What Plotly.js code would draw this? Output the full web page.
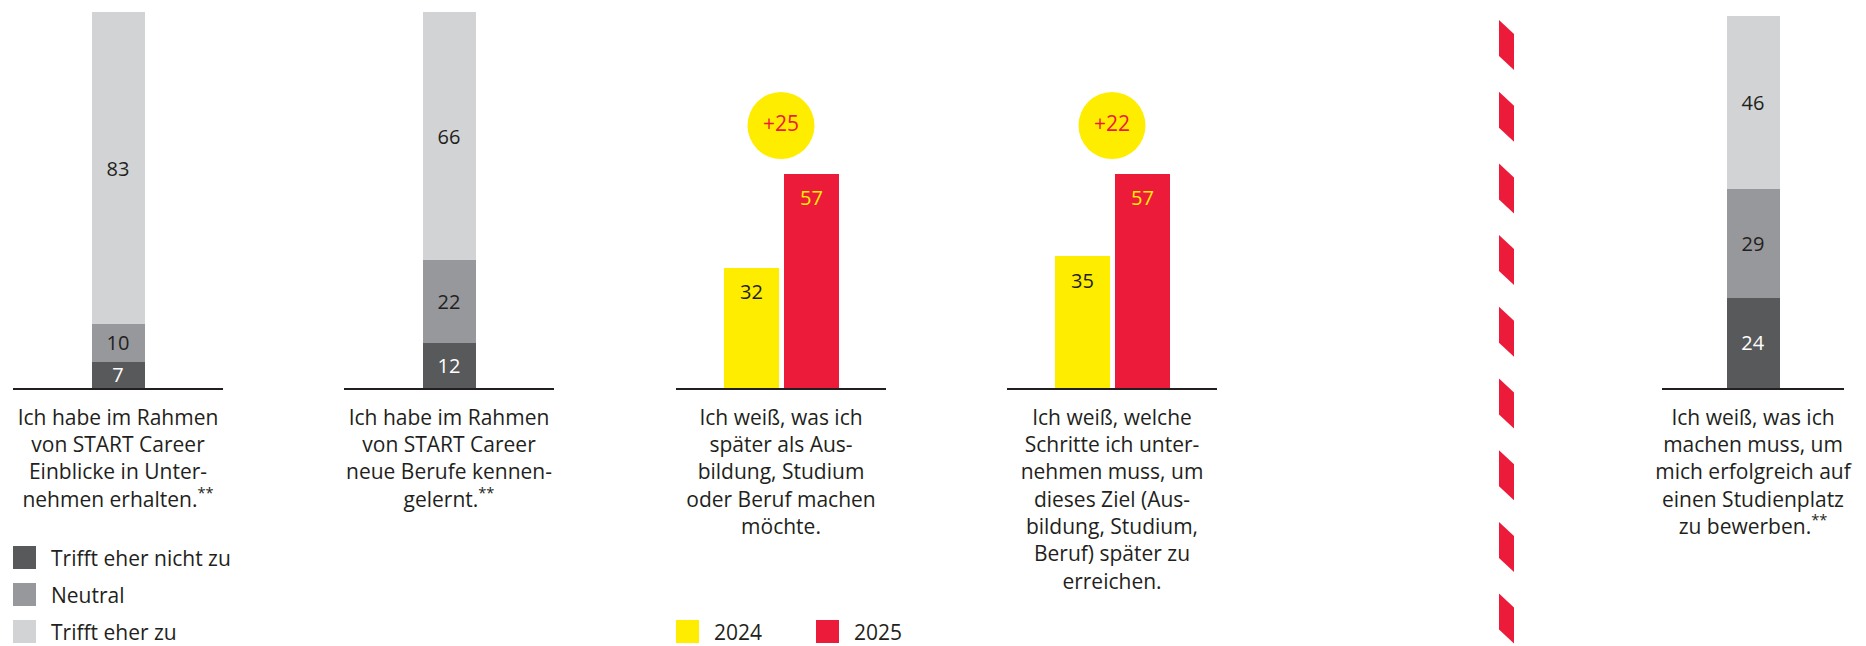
<!DOCTYPE html>
<html><head><meta charset="utf-8">
<script src="https://cdn.plot.ly/plotly-3.0.1.min.js"></script>
<style>html,body{margin:0;padding:0;background:#fff;overflow:hidden}#chart{width:1866px;height:646px}</style>
</head><body><div id="chart"></div>
<script>
// ---------- data ----------
const likertSeries = ['Trifft eher nicht zu', 'Neutral', 'Trifft eher zu'];
const yearSeries = ['2024', '2025'];
const q1Values = [7, 10, 83];
const q2Values = [12, 22, 66];
const q3Values = [32, 57];
const q4Values = [35, 57];
const q5Values = [24, 29, 46];
const questionLabels = [
  'Ich habe im Rahmen<br>von START Career<br>Einblicke in Unter-<br>nehmen erhalten.<sup>**</sup>',
  'Ich habe im Rahmen<br>von START Career<br>neue Berufe kennen-<br>gelernt.<sup>**</sup>',
  'Ich weiß, was ich<br>später als Aus-<br>bildung, Studium<br>oder Beruf machen<br>möchte.',
  'Ich weiß, welche<br>Schritte ich unter-<br>nehmen muss, um<br>dieses Ziel (Aus-<br>bildung, Studium,<br>Beruf) später zu<br>erreichen.',
  'Ich weiß, was ich<br>machen muss, um<br>mich erfolgreich auf<br>einen Studienplatz<br>zu bewerben.<sup>**</sup>'
];

// ---------- style ----------
const FONT = '"Open Sans", "Noto Sans", sans-serif';
const INK = '#231f20';
const likertColors = ['#58595b', '#97989b', '#d1d3d4'];
const likertTextColors = ['#ffffff', INK, INK];
const YELLOW = '#ffed00', RED = '#ed1b3a';
const yearColors = [YELLOW, RED];
const yearTextColors = [INK, YELLOW];

const W = 1866, H = 646;
const M = {l: 0, r: 0, t: 12, b: 258};
const plotH = H - M.t - M.b;
const px2x = p => p / W;
const px2y = p => (H - M.b - p) / plotH;

const axisSpans = [[13, 223], [344, 554], [676, 886], [1007, 1217], [1662, 1844]];
const singleRange = [-0.5, 0.5];
const pairRange = [-1.25, 2.25];
const stackBarPx = 53, pairBarPx = 55;
const circleLift = 12.8;   // y units above the taller bar
const circleSize = 67;

function barWidth(i, range, px) {
  const span = axisSpans[i][1] - axisSpans[i][0];
  return px / span * (range[1] - range[0]);
}

const traces = [];
const annotations = [];
const shapes = [];

// stacked likert panels
const stackedPanels = [[q1Values, 'x', 0], [q2Values, 'x2', 1], [q5Values, 'x5', 4]];
likertSeries.forEach((name, k) => {
  stackedPanels.forEach(([vals, xa, i]) => {
    traces.push({
      type: 'bar', x: [0], y: [vals[k]], xaxis: xa, yaxis: 'y', name: name,
      width: barWidth(i, singleRange, stackBarPx),
      marker: {color: likertColors[k], line: {width: 0}},
      text: [String(vals[k])], textposition: 'inside', insidetextanchor: 'middle',
      constraintext: 'none', textangle: 0,
      textfont: {family: FONT, size: 20, color: likertTextColors[k]},
      showlegend: false, hoverinfo: 'skip'
    });
  });
});

// year comparison panels
const pairPanels = [[q3Values, 'x3', 2], [q4Values, 'x4', 3]];
pairPanels.forEach(([vals, xa, i]) => {
  yearSeries.forEach((yr, k) => {
    traces.push({
      type: 'bar', x: [k], y: [vals[k]], xaxis: xa, yaxis: 'y', name: yr,
      width: barWidth(i, pairRange, pairBarPx),
      marker: {color: yearColors[k], line: {width: 0}},
      showlegend: false, hoverinfo: 'skip'
    });
    annotations.push({
      xref: xa, yref: 'y', x: k, y: vals[k], text: String(vals[k]), showarrow: false,
      yanchor: 'middle', yshift: -24,
      font: {family: FONT, size: 20, color: yearTextColors[k]}
    });
  });
  traces.push({
    type: 'scatter', mode: 'markers+text', x: [(0 + 1) / 2], y: [Math.max(...vals) + circleLift],
    xaxis: xa, yaxis: 'y', cliponaxis: false,
    marker: {size: circleSize, color: YELLOW, line: {width: 0}},
    text: ['+' + (vals[1] - vals[0])], textposition: 'middle center',
    textfont: {family: FONT, size: 21, color: RED},
    showlegend: false, hoverinfo: 'skip'
  });
});

// ---------- axes ----------
const layout = {
  width: W, height: H, margin: M, paper_bgcolor: '#fff', plot_bgcolor: 'rgba(0,0,0,0)',
  barmode: 'stack', showlegend: false, hovermode: false,
  font: {family: FONT, color: INK},
  yaxis: {range: [0, 100], visible: false, fixedrange: true, domain: [0, 1]},
  annotations: annotations, shapes: shapes
};
const axisNames = ['xaxis', 'xaxis2', 'xaxis3', 'xaxis4', 'xaxis5'];
const axisRanges = [singleRange, singleRange, pairRange, pairRange, singleRange];
axisNames.forEach((nm, i) => {
  layout[nm] = {
    domain: [px2x(axisSpans[i][0]), px2x(axisSpans[i][1])], range: axisRanges[i],
    anchor: 'y', fixedrange: true, showgrid: false, zeroline: false,
    showticklabels: false, ticks: '', showline: true, linecolor: INK, linewidth: 2,
    title: {text: questionLabels[i], font: {family: FONT, size: 21, color: INK}, standoff: 21}
  };
});

// ---------- legends (built from series arrays) ----------
const SQ = 23;
likertSeries.forEach((name, k) => {
  const top = 546 + k * 37;
  shapes.push({type: 'rect', xref: 'paper', yref: 'paper', x0: px2x(13), x1: px2x(13 + SQ),
    y0: px2y(top + SQ), y1: px2y(top), fillcolor: likertColors[k], line: {width: 0}});
  annotations.push({xref: 'paper', yref: 'paper', x: px2x(50), y: px2y(top + SQ / 2),
    xanchor: 'left', yanchor: 'middle', text: name, showarrow: false, borderpad: 0,
    font: {family: FONT, size: 21, color: INK}});
});
yearSeries.forEach((yr, k) => {
  const left = 676 + k * 140, top = 620;
  shapes.push({type: 'rect', xref: 'paper', yref: 'paper', x0: px2x(left), x1: px2x(left + SQ),
    y0: px2y(top + SQ), y1: px2y(top), fillcolor: yearColors[k], line: {width: 0}});
  annotations.push({xref: 'paper', yref: 'paper', x: px2x(left + 37), y: px2y(top + SQ / 2),
    xanchor: 'left', yanchor: 'middle', text: yr, showarrow: false, borderpad: 0,
    font: {family: FONT, size: 21, color: INK}});
});

// ---------- decorative dashed separator ----------
const dashX0 = 1499, dashX1 = 1514, dashStart = 20, dashPeriod = 71.7;
for (let s = dashStart; s < H; s += dashPeriod) {
  const p = (x, y) => px2x(x).toFixed(5) + ',' + px2y(y).toFixed(5);
  shapes.push({type: 'path', xref: 'paper', yref: 'paper', layer: 'above',
    path: 'M' + p(dashX0, s) + 'L' + p(dashX1, s + 14) + 'L' + p(dashX1, s + 50) + 'L' + p(dashX0, s + 36) + 'Z',
    fillcolor: RED, line: {width: 0}});
}

Plotly.newPlot('chart', traces, layout, {displayModeBar: false, staticPlot: true});
</script></body></html>
